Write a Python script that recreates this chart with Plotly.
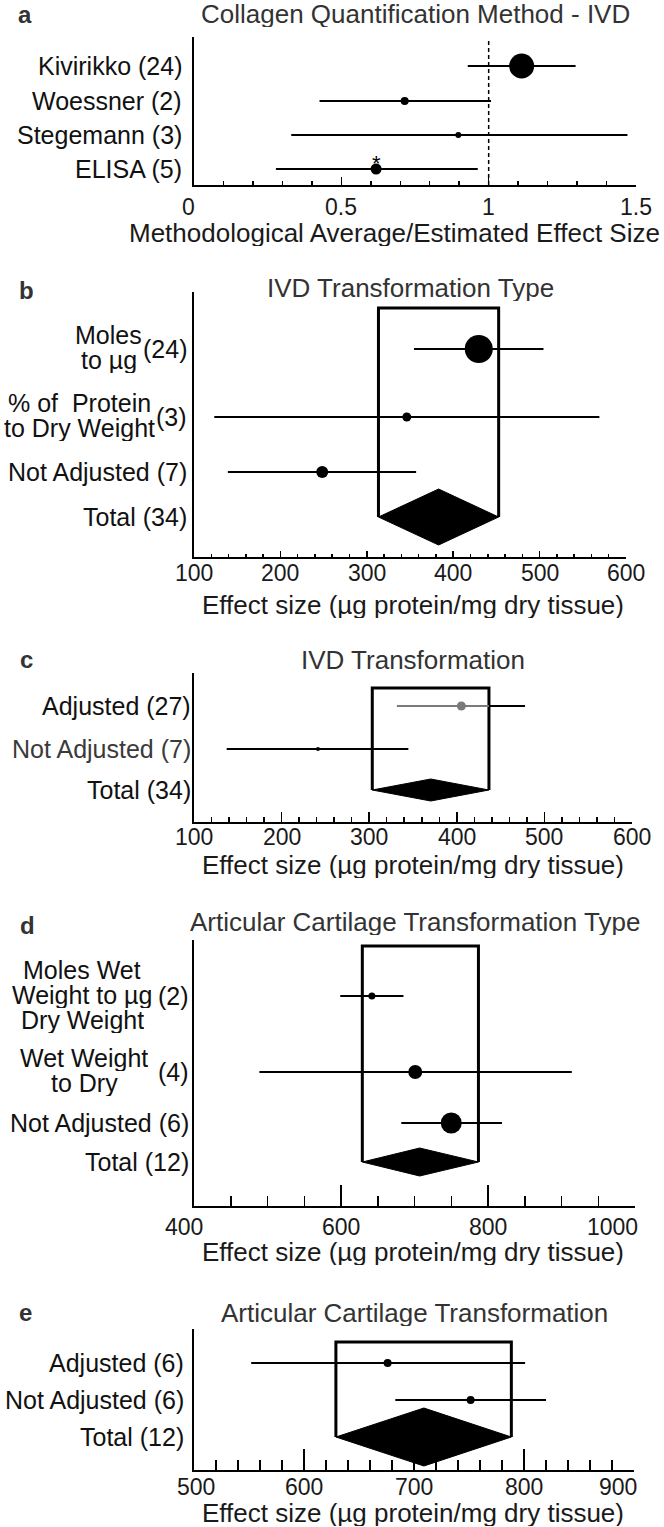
import plotly.graph_objects as go

W, H = 664, 1527
FONT = "Liberation Sans, Arial, Helvetica, sans-serif"

# ------------------------- DATA -------------------------
# Panel a: Collagen Quantification Method - IVD
a_labels = ["Kivirikko (24)", "Woessner (2)", "Stegemann (3)", "ELISA (5)"]
a_est = [1.112, 0.715, 0.897, 0.618]
a_lo = [0.929, 0.426, 0.330, 0.278]
a_hi = [1.295, 1.008, 1.471, 0.963]
a_sig = ["", "", "", "*"]
a_ref = 1.0
a_ticks = [0, 0.5, 1, 1.5]

# Panel b: IVD Transformation Type
b_labels = [["Moles", "to µg"], ["% of  Protein", "to Dry Weight"], ["Not Adjusted"]]
b_counts = ["(24)", "(3)", "(7)"]
b_est = [429.6, 346.3, 248.4]
b_lo = [354.6, 123.5, 139.2]
b_hi = [504.5, 569.2, 357.1]
b_total = ["Total", "(34)"]
b_total_est, b_total_lo, b_total_hi = 383.1, 313.5, 452.6
b_ticks = [100, 200, 300, 400, 500, 600]

# Panel c: IVD Transformation
c_labels = [["Adjusted"], ["Not Adjusted"]]
c_counts = ["(27)", "(7)"]
c_est = [405.2, 241.5]
c_lo = [331.6, 137.3]
c_hi = [477.9, 344.7]
c_total = ["Total", "(34)"]
c_total_est, c_total_lo, c_total_hi = 370.3, 303.5, 436.7
c_ticks = [100, 200, 300, 400, 500, 600]

# Panel d: Articular Cartilage Transformation Type
d_labels = [["Moles Wet", "Weight to µg", "Dry Weight"], ["Wet Weight", "to Dry"], ["Not Adjusted"]]
d_counts = ["(2)", "(4)", "(6)"]
d_est = [642, 701, 750]
d_lo = [599, 489, 682]
d_hi = [685, 914, 819]
d_total = ["Total", "(12)"]
d_total_est, d_total_lo, d_total_hi = 707, 629, 787
d_ticks = [400, 600, 800, 1000]

# Panel e: Articular Cartilage Transformation
e_labels = [["Adjusted"], ["Not Adjusted"]]
e_counts = ["(6)", "(6)"]
e_est = [676, 751.5]
e_lo = [552, 683]
e_hi = [801, 820]
e_total = ["Total", "(12)"]
e_total_est, e_total_lo, e_total_hi = 709, 629, 788.5
e_ticks = [500, 600, 700, 800, 900]

titles = ["Collagen Quantification Method - IVD", "IVD Transformation Type",
          "IVD Transformation", "Articular Cartilage Transformation Type",
          "Articular Cartilage Transformation"]
letters = ["a", "b", "c", "d", "e"]
x_titles = ["Methodological Average/Estimated Effect Size"] + ["Effect size (µg protein/mg dry tissue)"] * 4
x_ranges = [[0, 1.5], [100, 600], [100, 600], [400, 1000], [500, 900]]

# ------------------------- LAYOUT (pixels) -------------------------
panels = [
    dict(x0=194, x1=636, y0=37, y1=185, rows=[29, 64, 98, 132], box=None, dh=0,
         major=0.5, minor=0.1, mlen=8, nlen=4, lab_r=184, centers=None,
         title_y=14, letter=(25, 14), xt=(394, 233), tick_y=207, tick_shift=(-6, 0), last_right=False,
         sizes=[25, 8, 6, 11], colors=["black"] * 4),
    dict(x0=194, x1=626, y0=292, y1=557, rows=[57, 125, 180, 225], box=16, dh=28,
         major=100, minor=20, mlen=6, nlen=3, lab_r=189, centers=[109, 79, None],
         title_y=288, letter=(26, 290), xt=(413, 605), tick_y=573, tick_shift=(0, 0), last_right=False,
         sizes=[28, 9, 12], colors=["black"] * 3),
    dict(x0=194, x1=632, y0=673, y1=822, rows=[33, 76, 117], box=15, dh=11,
         major=100, minor=20, mlen=10, nlen=5, lab_r=193, centers=[None, None],
         title_y=660, letter=(26, 659), xt=(413, 865), tick_y=837, tick_shift=(0, 0), last_right=False,
         sizes=[9, 4], colors=["#7a7a7a", "black"]),
    dict(x0=194, x1=635, y0=940, y1=1206, rows=[56, 132, 183, 222], box=6, dh=14,
         major=200, minor=50, mlen=21, nlen=10, lab_r=191, centers=[82, 84, None],
         title_y=922, letter=(27, 925), xt=(413, 1252), tick_y=1227, tick_shift=(-10, 4), last_right=True,
         sizes=[7, 14, 21], colors=["black"] * 3),
    dict(x0=194, x1=634, y0=1329, y1=1470, rows=[34, 71, 108], box=13, dh=29,
         major=100, minor=20, mlen=21, nlen=10, lab_r=186, centers=[None, None],
         title_y=1313, letter=(25, 1312), xt=(413, 1513), tick_y=1487, tick_shift=(2, 4), last_right=True,
         sizes=[8, 8], colors=["black"] * 2),
]

fig = go.Figure()
annotations = []
shapes = []


def py(p):
    return 1 - p / H


def pxp(p):
    return p / W


data_sets = [
    (a_labels, None, a_est, a_lo, a_hi, None, a_ticks),
    (b_labels, b_counts, b_est, b_lo, b_hi, (b_total, b_total_est, b_total_lo, b_total_hi), b_ticks),
    (c_labels, c_counts, c_est, c_lo, c_hi, (c_total, c_total_est, c_total_lo, c_total_hi), c_ticks),
    (d_labels, d_counts, d_est, d_lo, d_hi, (d_total, d_total_est, d_total_lo, d_total_hi), d_ticks),
    (e_labels, e_counts, e_est, e_lo, e_hi, (e_total, e_total_est, e_total_lo, e_total_hi), e_ticks),
]

LINE_GAP = 25

for i, (P, D) in enumerate(zip(panels, data_sets)):
    k = "" if i == 0 else str(i + 1)
    xa, ya = f"x{k}", f"y{k}"
    labels, counts, est, lo, hi, total, ticks = D
    rows = P["rows"]
    Hp = P["y1"] - P["y0"]

    # total box + diamond
    if total is not None:
        tname, t_est, t_lo, t_hi = total
        tr = rows[-1]
        fig.add_trace(go.Scatter(x=[t_lo, t_lo, t_hi, t_hi], y=[tr, P["box"], P["box"], tr],
                                 mode="lines", line=dict(color="black", width=3),
                                 xaxis=xa, yaxis=ya, hoverinfo="skip"))
        fig.add_trace(go.Scatter(x=[t_lo, t_est, t_hi, t_est, t_lo],
                                 y=[tr, tr - P["dh"], tr, tr + P["dh"], tr],
                                 mode="lines", fill="toself", fillcolor="black",
                                 line=dict(color="black", width=1),
                                 xaxis=xa, yaxis=ya, hoverinfo="skip"))

    # CI lines
    for j in range(len(est)):
        col = P["colors"][j]
        if col != "black" and total is not None and hi[j] > total[3]:
            fig.add_trace(go.Scatter(x=[lo[j], total[3]], y=[rows[j], rows[j]], mode="lines",
                                     line=dict(color=col, width=2), xaxis=xa, yaxis=ya, hoverinfo="skip"))
            fig.add_trace(go.Scatter(x=[total[3], hi[j]], y=[rows[j], rows[j]], mode="lines",
                                     line=dict(color="black", width=2), xaxis=xa, yaxis=ya, hoverinfo="skip"))
        else:
            fig.add_trace(go.Scatter(x=[lo[j], hi[j]], y=[rows[j], rows[j]], mode="lines",
                                     line=dict(color=col, width=2), xaxis=xa, yaxis=ya, hoverinfo="skip"))
    fig.add_trace(go.Scatter(x=est, y=rows[:len(est)], mode="markers",
                             marker=dict(size=P["sizes"], color=P["colors"], opacity=1, line=dict(width=0)),
                             xaxis=xa, yaxis=ya, hoverinfo="skip"))

    # axes
    fig.layout[f"xaxis{k}"] = dict(
        domain=[pxp(P["x0"]), pxp(P["x1"])], range=x_ranges[i], anchor=ya, automargin=False,
        showline=True, linecolor="black", linewidth=2, mirror=False,
        ticks="inside", ticklen=P["mlen"], tickwidth=1.5, tickcolor="black",
        dtick=P["major"], tick0=x_ranges[i][0], showticklabels=False,
        minor=dict(dtick=P["minor"], tick0=x_ranges[i][0], ticks="inside",
                   ticklen=P["nlen"], tickwidth=1.5, tickcolor="black", showgrid=False),
        showgrid=False, zeroline=False, fixedrange=True,
    )
    fig.layout[f"yaxis{k}"] = dict(
        domain=[py(P["y1"]), py(P["y0"])], range=[Hp, 0], anchor=xa, automargin=False,
        showline=True, linecolor="black", linewidth=2,
        showticklabels=False, ticks="", showgrid=False, zeroline=False, fixedrange=True,
    )

    # tick labels (drawn at the axis' own tick values)
    for t_i, tv in enumerate(ticks):
        last = t_i == len(ticks) - 1
        shift = P["tick_shift"][0] if t_i == 0 else (P["tick_shift"][1] if last else 0)
        anchor = "right" if (last and P["last_right"]) else "center"
        annotations.append(dict(text=f"{tv:g}", x=tv, xref=xa, xanchor=anchor, xshift=shift,
                                y=py(P["tick_y"]), yref="paper", yanchor="middle", height=22, borderpad=0,
                                showarrow=False, font=dict(family=FONT, size=23, color="#1a1a1a")))

    # labels
    lab_font = dict(family=FONT, size=25, color="#111111")
    for j, lab in enumerate(labels):
        if isinstance(lab, str):
            annotations.append(dict(text=lab, x=pxp(P["lab_r"]), xref="paper", xanchor="right",
                                    y=rows[j], yref=ya, yanchor="middle", showarrow=False, font=lab_font))
            continue
        lcol = "#3a3a3a" if (i == 2 and j == 1) else "#111111"
        if len(lab) == 1:
            annotations.append(dict(text=f"{lab[0]} {counts[j]}", x=pxp(P["lab_r"]), xref="paper",
                                    xanchor="right", y=rows[j], yref=ya, yanchor="middle",
                                    showarrow=False, font=dict(family=FONT, size=25, color=lcol)))
        else:
            n = len(lab)
            for m, line in enumerate(lab):
                annotations.append(dict(text=line, x=pxp(P["centers"][j]), xref="paper", xanchor="center",
                                        y=rows[j], yref=ya, yanchor="middle",
                                        yshift=((n - 1) / 2 - m) * LINE_GAP + 2, height=27, borderpad=0,
                                        showarrow=False, font=lab_font))
            annotations.append(dict(text=counts[j], x=pxp(P["lab_r"]), xref="paper", xanchor="right",
                                    y=rows[j], yref=ya, yanchor="middle", showarrow=False, font=lab_font))
    if total is not None:
        annotations.append(dict(text=f"{total[0][0]} {total[0][1]}", x=pxp(P["lab_r"]), xref="paper",
                                xanchor="right", y=rows[-1], yref=ya, yanchor="middle",
                                showarrow=False, font=lab_font))

    # title, letter, x title
    annotations.append(dict(text=titles[i], x=pxp((P["x0"] + P["x1"]) / 2), xref="paper", xanchor="center",
                            y=py(P["title_y"]), yref="paper", yanchor="middle", height=26, borderpad=0,
                            showarrow=False, font=dict(family=FONT, size=26, color="#333333")))
    annotations.append(dict(text=f"<b>{letters[i]}</b>", x=pxp(P["letter"][0]), xref="paper", xanchor="center",
                            y=py(P["letter"][1]), yref="paper", yanchor="middle", height=18, borderpad=0,
                            showarrow=False, font=dict(family=FONT, size=24, color="#333333")))
    annotations.append(dict(text=x_titles[i], x=pxp(P["xt"][0]), xref="paper", xanchor="center",
                            y=py(P["xt"][1]), yref="paper", yanchor="middle", height=26, borderpad=0,
                            showarrow=False, font=dict(family=FONT, size=26, color="#1a1a1a")))

# panel a extras: reference line and significance marks
shapes.append(dict(type="line", xref="x", yref="y domain", x0=a_ref, x1=a_ref, y0=0, y1=0.98,
                   line=dict(color="black", width=1.5, dash="4px,3px")))
for j, s in enumerate(a_sig):
    if s:
        annotations.append(dict(text=s, x=a_est[j], xref="x", y=panels[0]["rows"][j], yref="y",
                                yanchor="middle", yshift=6, showarrow=False,
                                font=dict(family=FONT, size=22, color="black")))

fig.update_layout(width=W, height=H, margin=dict(l=0, r=0, t=0, b=0, pad=0, autoexpand=False),
                  paper_bgcolor="white", plot_bgcolor="white", showlegend=False,
                  annotations=annotations, shapes=shapes)

fig.write_html("out.html", config={"displayModeBar": False, "staticPlot": True},
               post_script="document.body.style.margin='0';document.body.style.overflow='hidden';")
